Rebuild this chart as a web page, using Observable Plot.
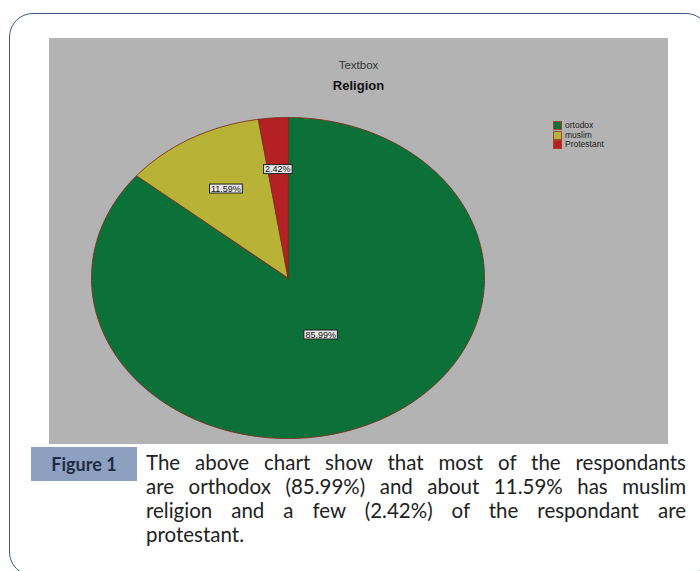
<!DOCTYPE html>
<html>
<head>
<meta charset="utf-8">
<script src="https://cdn.jsdelivr.net/npm/d3@7"></script>
<script src="https://cdn.jsdelivr.net/npm/@observablehq/plot@0.6"></script>
<style>
  html, body { margin: 0; padding: 0; background: #fff; width: 700px; height: 571px; overflow: hidden; }
  #frame { position: absolute; left: 9px; top: 13px; width: 701px; height: 563px; border: 1.5px solid #3a5a8a; border-radius: 24px; box-sizing: border-box; }
  #panel { position: absolute; left: 49px; top: 38px; width: 619px; height: 406px; background: #b3b3b3; }
  #panel svg { position: absolute; left: 0; top: 0; }
  .title1 { position: absolute; left: 0; width: 619px; text-align: center; font-family: "Liberation Sans", Arial, sans-serif; color: #333; }
  #legend { position: absolute; left: 504px; top: 83px; font-family: "Liberation Sans", Arial, sans-serif; font-size: 8.5px; color: #222; }
  #legend .row { height: 9.5px; line-height: 9.5px; display: flex; align-items: center; }
  #legend .sw { width: 7px; height: 7px; border: 1px solid #a0452a; margin-right: 3px; box-sizing: content-box; }
  #figbox { position: absolute; left: 31px; top: 447px; width: 106px; height: 34px; background: #8ea0bf; font-family: Lato, "Open Sans", sans-serif; font-weight: bold; font-size: 18px; color: #1d2b44; display: flex; align-items: center; justify-content: center; }
  #caption { position: absolute; left: 146px; top: 450px; width: 540px; font-family: Lato, "Open Sans", sans-serif; font-size: 20px; line-height: 24px; color: #222; }
  #caption .ln { text-align: justify; text-align-last: justify; white-space: nowrap; height: 24px; }
  #caption .ln.last { text-align-last: left; }
</style>
</head>
<body>
<div id="frame"></div>
<div id="panel">
  <div class="title1" style="top:21px;font-size:11.5px;">Textbox</div>
  <div class="title1" style="top:40px;font-size:13px;font-weight:bold;color:#111;">Religion</div>
  <div id="legend"></div>
</div>
<div id="figbox">Figure 1</div>
<div id="caption"></div>
<script>
// ---- data ----
const categories = ["ortodox", "muslim", "Protestant"];
const values = [85.99, 11.59, 2.42];
const labels = ["85.99%", "11.59%", "2.42%"];
const colors = ["#0c7139", "#b8b236", "#b52025"];
const captionLines = [
  "The above chart show that most of the respondants",
  "are orthodox (85.99%) and about 11.59% has muslim",
  "religion and a few (2.42%) of the respondant are",
  "protestant."
];
// label placement (fraction of radius along mid-angle)
const labelRadius = [0.39, 0.64, 0.68];

// ---- build pie geometry from values ----
const arcs = d3.pie().sort(null).value(d => d)(values);
const slicePts = [];
arcs.forEach((a, i) => {
  slicePts.push({cat: categories[i], x: 0, y: 0});
  const n = Math.max(2, Math.ceil((a.endAngle - a.startAngle) / (Math.PI / 360)));
  for (let k = 0; k <= n; k++) {
    const t = a.startAngle + (a.endAngle - a.startAngle) * k / n;
    slicePts.push({cat: categories[i], x: Math.sin(t), y: Math.cos(t)});
  }
});
const labelData = arcs.map((a, i) => {
  const m = (a.startAngle + a.endAngle) / 2;
  return {text: labels[i], x: labelRadius[i] * Math.sin(m), y: labelRadius[i] * Math.cos(m)};
});

const cx = 238.5, cy = 239.5, rx = 196.5, ry = 160.5;
const chart = Plot.plot({
  width: 619,
  height: 406,
  margin: 0,
  style: {background: "transparent", overflow: "visible"},
  x: {domain: [-1, 1], range: [cx - rx, cx + rx], axis: null},
  y: {domain: [-1, 1], range: [cy + ry, cy - ry], axis: null},
  color: {domain: categories, range: colors},
  marks: [
    Plot.line(slicePts, {x: "x", y: "y", z: "cat", fill: "cat", stroke: "#7a2e1a", strokeWidth: 0.9, curve: "linear-closed"}),
    Plot.text(labelData, {x: "x", y: "y", text: "text", fontSize: 9, fill: "#111", fontFamily: "Liberation Sans, Arial, sans-serif"})
  ]
});
document.getElementById("panel").appendChild(chart);

// boxes behind slice labels (same transform as each text)
chart.querySelectorAll('g[aria-label="text"] text').forEach(t => {
  const b = t.getBBox();
  const r = document.createElementNS("http://www.w3.org/2000/svg", "rect");
  const tr = t.getAttribute("transform");
  if (tr) r.setAttribute("transform", tr);
  r.setAttribute("x", b.x - 1.5);
  r.setAttribute("y", b.y + 0.5);
  r.setAttribute("width", b.width + 3);
  r.setAttribute("height", b.height - 1);
  r.setAttribute("fill", "#e6e6e6");
  r.setAttribute("stroke", "#222");
  r.setAttribute("stroke-width", 1);
  t.parentNode.insertBefore(r, t);
});

// legend
const leg = document.getElementById("legend");
categories.forEach((c, i) => {
  const row = document.createElement("div");
  row.className = "row";
  row.innerHTML = `<div class="sw" style="background:${colors[i]}"></div><span>${c}</span>`;
  leg.appendChild(row);
});

// caption: fit the longest line into the column width
const cap = document.getElementById("caption");
const probe = document.createElement("span");
probe.style.whiteSpace = "nowrap";
probe.style.visibility = "hidden";
probe.style.position = "absolute";
cap.appendChild(probe);
let fs = 20.5;
const widest = () => Math.max(...captionLines.map(l => { probe.textContent = l; return probe.getBoundingClientRect().width; }));
cap.style.fontSize = fs + "px";
while (widest() > 534 && fs > 12) { fs -= 0.25; cap.style.fontSize = fs + "px"; }
cap.removeChild(probe);
captionLines.forEach((l, i) => {
  const d = document.createElement("div");
  d.className = "ln" + (i === captionLines.length - 1 ? " last" : "");
  d.textContent = l;
  cap.appendChild(d);
});
</script>
</body>
</html>
